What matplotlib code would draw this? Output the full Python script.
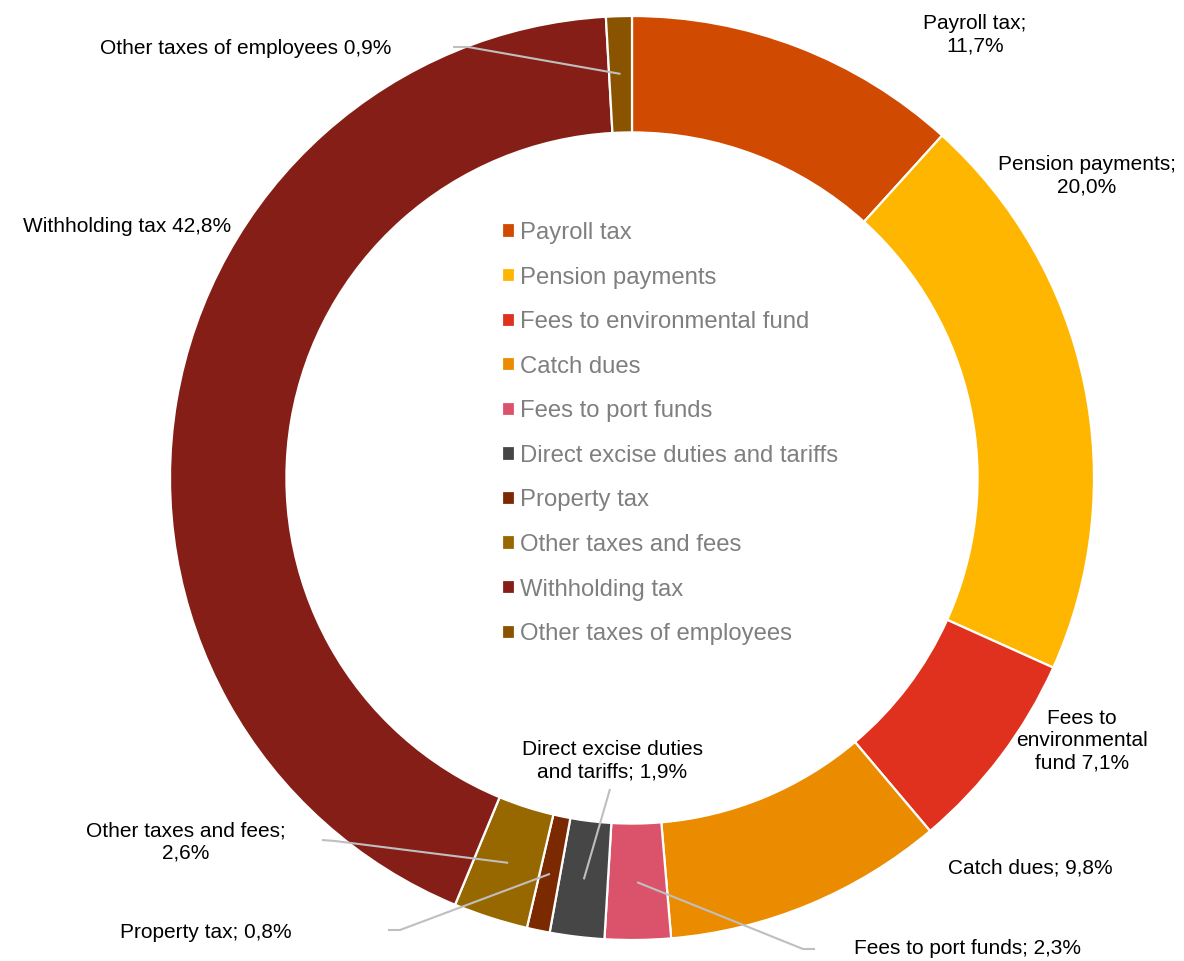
import numpy as np
import matplotlib
matplotlib.use("Agg")
import matplotlib.pyplot as plt

plt.rcParams['font.family'] = ['Liberation Sans', 'DejaVu Sans']

categories = ["Payroll tax", "Pension payments", "Fees to environmental fund",
              "Catch dues", "Fees to port funds", "Direct excise duties and tariffs",
              "Property tax", "Other taxes and fees", "Withholding tax",
              "Other taxes of employees"]
shares = [11.7, 20.0, 7.1, 9.8, 2.3, 1.9, 0.8, 2.6, 42.8, 0.9]
label_formats = ["Payroll tax;\n{}%", "Pension payments;\n{}%",
                 "Fees to\nenvironmental\nfund {}%", "Catch dues; {}%",
                 "Fees to port funds; {}%", "Direct excise duties\nand tariffs; {}%",
                 "Property tax; {}%", "Other taxes and fees;\n{}%",
                 "Withholding tax {}%", "Other taxes of employees {}%"]
colors = ["#D04A02", "#FFB600", "#E0301E", "#EB8C00", "#DB536A",
          "#464646", "#7B2900", "#986800", "#851E16", "#8A5300"]

W, H = 1184, 961
fig = plt.figure(figsize=(W / 100, H / 100), dpi=100)
ax = fig.add_axes([0, 0, 1, 1])
ax.set_xlim(0, W)
ax.set_ylim(0, H)
ax.set_aspect('equal')
ax.axis('off')


def px(x, y):
    return x, H - y


cx, cy = px(632, 478)
R = 462
explode = [0, 0, 0, 0, 0, 0, 0, 0, 0.008, 0]
wedges, _ = ax.pie(shares, colors=colors, startangle=90, counterclock=False,
                   center=(cx, cy), radius=R, explode=explode,
                   wedgeprops=dict(width=R * 0.252, edgecolor='white', linewidth=1.6))
ax.set_xlim(0, W)
ax.set_ylim(0, H)

# label placement (centre of text block) and optional leader elbows
text_pos = [px(975, 35), px(1087, 176), px(1082, 741), px(1030, 868),
            px(967, 948), px(612, 761), px(206, 932), px(186, 842),
            px(127, 227), px(246, 48)]
leaders = {4: (px(815, 949), px(803, 949)),
           5: (px(610, 789), None),
           6: (px(388, 930), px(400, 930)),
           7: (px(322, 840), px(335, 841)),
           9: (px(453, 47), px(468, 47))}

for i, (v, fmt) in enumerate(zip(shares, label_formats)):
    txt = fmt.format(f"{v:.1f}".replace('.', ','))
    ax.text(*text_pos[i], txt, ha='center', va='center', fontsize=15,
            color='black', linespacing=1.22)
    if i in leaders:
        w = wedges[i]
        mid = np.deg2rad((w.theta1 + w.theta2) / 2)
        ax_, ay_ = w.center[0] + 0.875 * R * np.cos(mid), w.center[1] + 0.875 * R * np.sin(mid)
        start, elbow = leaders[i]
        xs = [start[0]] + ([elbow[0]] if elbow else []) + [ax_]
        ys = [start[1]] + ([elbow[1]] if elbow else []) + [ay_]
        ax.plot(xs, ys, color='#BFBFBF', lw=1.5, solid_capstyle='butt', zorder=5)

leg = ax.legend(wedges, categories, loc='upper left',
                bbox_to_anchor=(502 / W, 1 - 222 / H), frameon=False,
                fontsize=17.2, labelcolor='#7F7F7F', handlelength=0.55,
                handleheight=0.55, handletextpad=0.22, labelspacing=0.945,
                borderpad=0, borderaxespad=0)

fig.savefig("out.png", dpi=100)
